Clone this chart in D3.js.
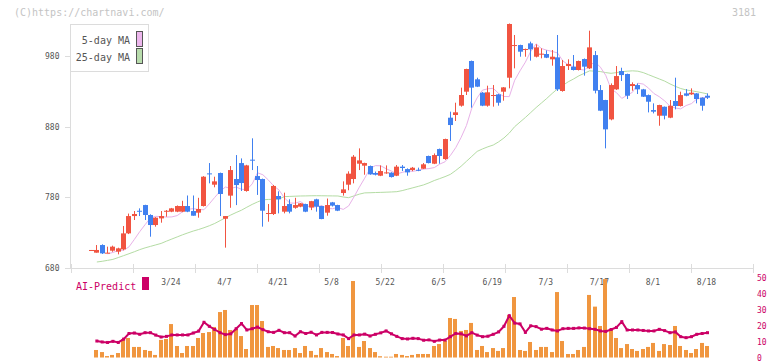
<!DOCTYPE html>
<html><head><meta charset="utf-8">
<script src="https://cdn.jsdelivr.net/npm/d3@7"></script>
<style>body{margin:0;background:#fff}svg{display:block}text{font-family:"DejaVu Sans Mono","Liberation Mono",monospace}</style>
</head><body><svg id="c" width="772" height="361"></svg>
<script>
// ---- data ----
const dateLabels = ["3/24","4/7","4/21","5/8","5/22","6/5","6/19","7/3","7/17","8/1","8/18"];
const dateLabelIndex = [15,25,35,45,55,65,75,85,95,105,115];
const priceTicks = [680,780,880,980];
const predictTicks = [0,10,20,30,40,50];

const openP = [705.3,701.7,712.5,701.5,704.5,703.1,706.4,729,753.5,761,769.1,755,740.8,750.2,759.7,759.7,759.7,759.7,767.7,760.6,758.3,767.7,813.9,797.9,814.4,749.7,782.4,805.9,828.5,789,833.3,810.1,805.9,756.4,756.4,781.9,759.7,770.5,765.2,766.8,770.5,765.7,777.2,767.7,758.3,772.9,769.1,786.1,797.9,805.9,827.6,824.8,824.3,814.4,810.6,814.4,814.9,810.6,823.4,820,818.6,819,820.5,838.5,827.6,848.3,834.2,892.7,896.5,909.7,929.5,972.9,947,928.1,909.7,923.8,925.7,929.5,949.3,994.6,995.5,988.9,997.9,979,982.3,982.8,975.3,978.1,930.5,965.8,964.9,960.2,975.7,962.5,981.3,931.8,917.7,890.3,932.8,958.7,954.5,937.5,938.9,932.8,924.7,903.5,895.5,908.2,892.7,916.3,909.2,927.1,925.7,927.1,921,923.8];
const highP = [705.5,712.5,713.5,710.2,711.6,708.7,739.4,757,760.6,764.4,769.5,756,752,760.6,762,765,768.5,775.1,782.6,782.6,779.3,810,828.5,809.2,815,753.5,824.3,839.8,835.1,826,863.5,824.3,806.5,770.5,797.5,788.5,786.6,777.2,779.3,772,771,775,778,768,778.3,773.5,769.5,802.6,816.8,839.8,849.3,829,825,816.5,825.2,825.2,815.5,825.7,825.7,821,823,822,828.5,839,842.1,849,863,901.2,913.9,935.2,962,973.5,949.3,929,938,938.9,926.5,936,1026,1009.7,996,990.5,1000.3,996.5,990.8,988,988.5,1009.7,974.3,975.3,981.4,973.5,976.5,1015.8,987,938.9,918,941.2,965.8,963.4,955,942.7,941.2,933.5,925.5,913,911,908.5,917.7,949.3,929.5,933.2,934.2,927.5,921.5,927.1];
const lowP = [705.3,701.7,699.8,701,703,699.3,705,728,747.9,753.5,747.9,724.3,738.5,744.1,752.6,759,759,759,759,754,751.2,767,799.8,794.2,753.5,708.8,765.2,769,789,788,818.6,783.4,738.5,745.5,755,757.3,757.3,757.3,763.9,766,759,761.9,759.7,749,754,767,760.5,782.4,790,799.8,818.6,812,812,811,810,813.4,808,810,817.2,810.6,817,817,820,828,827,827.6,833,859.7,888,908.3,924.8,906.9,936,909,908.3,908.3,909.7,916.8,934.2,962.5,979,979,973.4,978,976.7,977,966.3,930.5,929.5,960.2,959.5,959.5,952.2,961.5,927.1,902,849.3,889,932,944.6,919.1,930.9,926.2,922,900.2,898.8,881.3,890.3,892,904.5,908.5,923,925,913,902.6,919.1];
const closeP = [705.5,705.5,700.7,701.7,710.2,707.8,729,753.5,756.4,760,755,740.8,751.2,753.5,761,764.4,767.7,767.7,759.7,754,763.5,809.2,813,802.6,784.7,753.5,818.6,797.4,800.2,825.2,832.3,804.5,761.1,757.8,796.1,777.2,767.7,759.7,769.1,771.5,759.7,774.6,766.8,749.3,769.1,768.2,761.1,791.3,813.5,837.5,832.3,828.5,812.5,812,817.2,815.3,808.7,823.4,821.5,815.3,821.9,818.1,826.7,828.5,839.8,838.5,862.5,882.3,900.3,924.8,961.6,935.2,936.6,909.7,928.6,924.8,913.9,935.6,1025.3,995.5,986.1,989.9,989.4,992.2,983.3,977.6,979,932.8,965.8,968.7,960.2,972.9,964.9,992.2,930.9,902.6,876.2,938.9,951.6,953,923.8,940.3,932.8,922.4,915.3,901.2,910.6,895.5,909.6,909.2,924.7,923.8,928.1,919.1,909.6,921];
const ma5 = [null,null,null,700.0,702.0,704.7,705.2,709.9,720.4,731.4,741.3,750.8,753.1,752.7,752.1,752.3,754.2,759.6,762.9,764.1,762.7,762.5,770.8,779.9,788.5,794.6,792.6,794.5,791.4,790.9,799.0,814.7,811.9,804.7,796.2,790.4,779.3,772.0,771.7,774.0,769.0,765.5,766.9,768.3,764.4,763.9,765.6,762.9,767.8,780.6,794.3,807.1,820.6,824.9,824.6,820.5,817.1,813.1,815.3,817.2,816.8,818.2,820.0,820.7,822.1,827.0,830.3,839.2,850.3,864.7,881.7,906.3,920.8,931.7,933.6,934.3,927.0,922.7,922.5,945.6,959.0,971.3,986.5,997.2,990.6,988.2,986.5,984.3,973.0,967.7,964.8,961.3,960.1,966.5,971.8,964.2,952.7,933.4,928.2,920.0,924.5,928.7,941.5,940.3,934.5,926.9,922.4,916.5,909.0,906.4,905.2,909.9,912.6,919.1,921.0,921.1];
const ma25 = [null,688.5,689.5,690.8,692.2,694.8,697.5,700.2,703,706,708.5,710.6,712.7,714.8,718,721,724,727,729.7,732.3,734.5,737,739.8,743,747,751,755,758.5,761.8,766,770,773.5,776.5,777,777.3,777.6,781,781.3,781.6,781.9,782,782.2,782.3,782.2,782.1,782,781.9,780.5,779.5,782,784.5,786.3,786.5,786.8,787,787.3,787.6,788,789.5,791.5,793.5,795.5,797.6,800.5,803.8,806.5,809.3,812.5,818,824,831,838,845,848.5,851.5,854,858.5,864,871,880,886.5,893,900,907,913.5,920,927,933.5,938.5,943.5,947.5,952,955.5,959,958.5,958,956.5,955.5,956.5,957.8,958.5,959,958.5,956.5,953.5,950.5,947.5,944.5,940.5,937,934,932,930.8,929.5,928,926.3];
const volume = [null,4.7,3.4,0.9,1.6,2.8,11.4,12.2,6.6,6.6,4.7,4.1,1.6,11.0,11.6,20.9,7.2,2.8,7.2,7.2,12.2,15.3,15.9,19.1,28.4,29.7,17.2,17.8,13.4,5.3,32.8,32.8,22.8,6.6,7.2,5.9,4.7,4.7,5.9,2.8,7.2,4.1,1.6,5.9,3.4,2.2,0.9,12.2,7.2,47.8,6.6,10.3,5.9,3.4,0.8,0.5,0.5,2.2,1.6,0.9,1.6,2.2,2.2,2.2,7.2,8.4,10.3,24.7,24.1,16.6,17.2,21.6,4.7,7.2,3.4,5.9,4.1,5.9,26.6,37.8,4.7,4.1,9.7,4.7,6.6,6.6,3.4,40.9,10.3,2.2,2.2,4.7,6.6,39.1,31.8,19.7,49,17.2,12.2,5.9,8.4,5.3,4.1,5.3,6.6,9.1,4.1,8.4,7.8,19.7,7.2,4.7,2.8,5.3,9.1,7.2];
const aiPredict = [null,10.3,9.7,9.4,10.1,9.4,11.5,15.0,15.3,14.5,15.5,15.5,14.0,12.8,13.2,14.1,14.1,14.1,14.1,15.3,16.5,22.0,19.5,17.5,15.5,14.3,14.8,18.0,21.2,17.2,18.0,19.0,17.4,16.1,15.7,17.0,15.5,15.5,13.4,16.1,15.0,15.8,14.1,15.7,15.7,15.6,14.7,14.1,11.8,14.1,14.1,14.6,13.4,14.5,15.4,16.6,14.8,13.2,11.8,11.6,12.0,11.8,10.8,11.0,10.1,10.9,10.9,13.0,15.0,14.8,13.5,15.5,14.0,13.0,13.3,14.5,16.0,19.5,26.1,21.5,21.0,15.7,19.8,19.3,17.7,18.2,17.2,16.6,18.0,18.2,18.2,18.5,18.4,18.0,17.6,16.6,16.3,17.5,18.8,22.4,17.2,17.2,17.2,16.9,16.6,16.6,17.6,16.8,15.5,16.0,13.0,12.4,13.0,14.5,15.0,15.5];

// ---- drawing ----
const svg = d3.select('#c');
const n = closeP.length;
const x = d3.scaleLinear().domain([0, n - 1]).range([91.5, 707.5]);
const y = d3.scaleLinear().domain([680, 980]).range([268, 56]);
const yv = d3.scaleLinear().domain([0, 50]).range([357.5, 277.5]);
const xt = d3.scaleLinear().domain([0, 11]).range([70.5, 752.5]);
const UP = '#f15441', DOWN = '#4080f0';
const idx = d3.range(n);
const left = i => Math.round(x(i) - 2.5);

// header
svg.append('text').attr('x', 14).attr('y', 16).attr('font-size', 10).attr('fill', '#c4c4c4').text('(C)https://chartnavi.com/');
svg.append('text').attr('x', 756).attr('y', 16).attr('font-size', 10).attr('fill', '#c4c4c4').attr('text-anchor', 'end').text('3181');

// axes
svg.append('line').attr('x1', 70.5).attr('x2', 70.5).attr('y1', 24).attr('y2', 268).attr('stroke', '#dcdcdc');
svg.append('line').attr('x1', 70).attr('x2', 753).attr('y1', 268.5).attr('y2', 268.5).attr('stroke', '#dcdcdc');
svg.selectAll('.xt').data(d3.range(12)).join('line')
  .attr('x1', k => Math.round(xt(k)) + 0.5).attr('x2', k => Math.round(xt(k)) + 0.5)
  .attr('y1', 264).attr('y2', 273).attr('stroke', '#dcdcdc');
svg.selectAll('.yt').data(priceTicks).join('line')
  .attr('x1', 65).attr('x2', 70).attr('y1', d => Math.round(y(d)) + 0.5).attr('y2', d => Math.round(y(d)) + 0.5).attr('stroke', '#dcdcdc');
svg.selectAll('.yl').data(priceTicks).join('text')
  .attr('x', 59.5).attr('y', d => y(d) + 3).attr('text-anchor', 'end').attr('font-size', 8).attr('fill', '#555').text(d => d);
svg.selectAll('.xl').data(dateLabels).join('text')
  .attr('x', (d, k) => x(dateLabelIndex[k]) - 1).attr('y', 285).attr('text-anchor', 'middle')
  .attr('font-size', 8).attr('fill', '#555').text(d => d);

// moving averages
const line = arr => d3.line().defined(i => arr[i] != null).x(i => x(i)).y(i => y(arr[i]))(idx);
svg.append('path').attr('d', line(ma25)).attr('fill', 'none').attr('stroke', '#b4dca4').attr('stroke-width', 1);
svg.append('path').attr('d', line(ma5)).attr('fill', 'none').attr('stroke', '#e8b2e8').attr('stroke-width', 1);

// candles
const g = svg.append('g');
g.selectAll('.wick').data(idx).join('line')
  .attr('x1', i => left(i) + 2.5).attr('x2', i => left(i) + 2.5)
  .attr('y1', i => y(highP[i])).attr('y2', i => y(lowP[i]))
  .attr('stroke', i => closeP[i] >= openP[i] ? UP : DOWN).attr('stroke-width', 1);
g.selectAll('.body').data(idx).join('rect')
  .attr('x', i => left(i)).attr('width', 5)
  .attr('y', i => y(Math.max(openP[i], closeP[i])))
  .attr('height', i => Math.max(1, Math.abs(y(openP[i]) - y(closeP[i]))))
  .attr('fill', i => closeP[i] >= openP[i] ? UP : DOWN);

// legend
svg.append('rect').attr('x', 70.5).attr('y', 24.5).attr('width', 78).attr('height', 47).attr('fill', '#fff').attr('stroke', '#dcdcdc');
svg.append('text').attr('x', 130).attr('y', 44).attr('text-anchor', 'end').attr('font-size', 10).attr('fill', '#555').text('5-day MA');
svg.append('text').attr('x', 130).attr('y', 61).attr('text-anchor', 'end').attr('font-size', 10).attr('fill', '#555').text('25-day MA');
svg.append('rect').attr('x', 136.5).attr('y', 31.5).attr('width', 6).attr('height', 15).attr('fill', '#ecb6ec').attr('stroke', '#555');
svg.append('rect').attr('x', 136.5).attr('y', 48.5).attr('width', 6).attr('height', 15).attr('fill', '#b8dcac').attr('stroke', '#555');

// AI-Predict panel
svg.append('text').attr('x', 76).attr('y', 290).attr('font-size', 10).attr('fill', '#cc0066').text('AI-Predict');
svg.append('rect').attr('x', 142).attr('y', 277).attr('width', 7).attr('height', 13).attr('fill', '#cc0066');
svg.selectAll('.vb').data(idx.filter(i => volume[i] != null)).join('rect')
  .attr('x', i => left(i)).attr('width', 4)
  .attr('y', i => yv(volume[i])).attr('height', i => yv(0) - yv(volume[i]))
  .attr('fill', '#f0963f');
const aiLine = d3.line().defined(i => aiPredict[i] != null).x(i => x(i)).y(i => yv(aiPredict[i]));
svg.append('path').attr('d', aiLine(idx)).attr('fill', 'none').attr('stroke', '#cc0066').attr('stroke-width', 2);
svg.selectAll('.ad').data(idx.filter(i => aiPredict[i] != null)).join('rect')
  .attr('x', i => x(i) - 1.5).attr('y', i => yv(aiPredict[i]) - 1.5).attr('width', 3).attr('height', 3).attr('fill', '#cc0066');
svg.selectAll('.vl').data(predictTicks).join('text')
  .attr('x', 757).attr('y', d => yv(d) + 3).attr('font-size', 8).attr('fill', '#cc0066').text(d => d);
</script></body></html>
